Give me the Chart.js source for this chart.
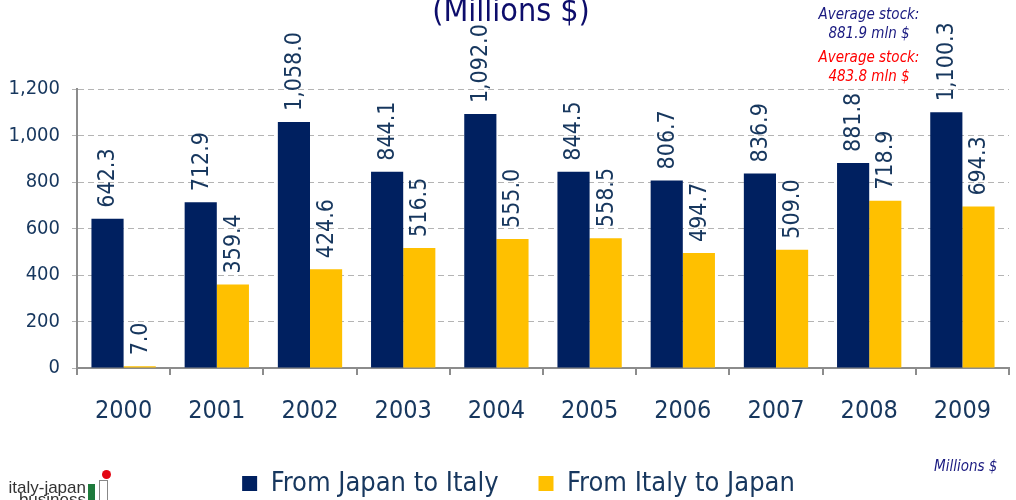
<!DOCTYPE html>
<html>
<head>
<meta charset="utf-8">
<script src="https://cdn.jsdelivr.net/npm/chart.js@4.4.1/dist/chart.umd.min.js"></script>
<style>
  body { margin: 0; background: #fff; overflow: hidden; }
  #wrap { position: relative; width: 1016px; height: 500px; font-family: "DejaVu Sans Condensed", "DejaVu Sans", sans-serif; }
  #title { position: absolute; left: 0; width: 1022px; top: -9px; text-align: center; font-size: 32px; color: #0d0d6b; }
  .avg { position: absolute; left: 790px; width: 158px; text-align: center; font-style: italic; font-size: 15px; line-height: 19px; }
  #unit { position: absolute; left: 934px; top: 457px; font-style: italic; font-size: 15px; color: #1a1a80; }
  #logo { position: absolute; left: 0; top: 470px; width: 120px; height: 30px; overflow: hidden; font-family: "Liberation Sans", sans-serif; }
  #logo .txt { position: absolute; left: 0; top: 12px; font-size: 17px; line-height: 12px; color: #333; text-align: right; width: 86px; }
  #logo .g { position: absolute; left: 88px; top: 14px; width: 7px; height: 16px; background: #1e7a3c; }
  #logo .w { position: absolute; left: 99px; top: 10px; width: 7px; height: 20px; border: 1px solid #888; background: #fff; }
  #logo .r { position: absolute; left: 102px; top: 0; width: 9px; height: 9px; border-radius: 50%; background: #e30613; }
</style>
</head>
<body>
<div id="wrap">
  <canvas id="chart" width="1016" height="500"></canvas>
  <div id="title">(Millions $)</div>
  <div class="avg" style="top:5px;color:#1a1a80">Average stock:<br>881.9 mln $</div>
  <div class="avg" style="top:48px;color:#ff0000">Average stock:<br>483.8 mln $</div>
  <div id="unit">Millions $</div>
  <div id="logo"><div class="txt">italy-japan<br>business</div><div class="g"></div><div class="w"></div><div class="r"></div></div>
</div>
<script>
  const years = ["2000", "2001", "2002", "2003", "2004", "2005", "2006", "2007", "2008", "2009"];
  const japanToItaly = [642.3, 712.9, 1058.0, 844.1, 1092.0, 844.5, 806.7, 836.9, 881.8, 1100.3];
  const italyToJapan = [7.0, 359.4, 424.6, 516.5, 555.0, 558.5, 494.7, 509.0, 718.9, 694.3];
  const yTicks = [0, 200, 400, 600, 800, 1000, 1200];

  const FONT = '"DejaVu Sans Condensed", "DejaVu Sans", sans-serif';
  const TEXT = "#17375e";
  const GRID = "#b4b4b4";
  const AXIS = "#8c8c8c";

  const fmt = (v) => v.toLocaleString("en-US", { minimumFractionDigits: 1, maximumFractionDigits: 1 });

  // vertical value labels above each bar
  const barLabels = {
    id: "barLabels",
    afterDatasetsDraw(chart) {
      const ctx = chart.ctx;
      ctx.save();
      ctx.font = `23px ${FONT}`;
      ctx.fillStyle = TEXT;
      ctx.textAlign = "left";
      ctx.textBaseline = "middle";
      chart.data.datasets.forEach((ds, di) => {
        chart.getDatasetMeta(di).data.forEach((bar, i) => {
          ctx.save();
          ctx.translate(bar.x + 1, bar.y - 11);
          ctx.rotate(-Math.PI / 2);
          ctx.fillText(fmt(ds.data[i]), 0, 0);
          ctx.restore();
        });
      });
      ctx.restore();
    },
  };

  // nudge the legend to where the original sits
  const legendShift = {
    id: "legendShift",
    afterLayout(chart) {
      const lg = chart.legend;
      if (!lg) return;
      lg.left += 14;
      lg.right += 14;
      lg.top -= 17;
      lg.bottom -= 17;
    },
  };

  new Chart(document.getElementById("chart"), {
    type: "bar",
    data: {
      labels: years,
      datasets: [
        { label: "From Japan to Italy", data: japanToItaly, backgroundColor: "#002060" },
        { label: "From Italy to Japan", data: italyToJapan, backgroundColor: "#ffc000" },
      ],
    },
    options: {
      responsive: false,
      animation: false,
      layout: { padding: { top: 89, left: 0, right: 7, bottom: -24 } },
      datasets: { bar: { categoryPercentage: 0.69, barPercentage: 1.0 } },
      plugins: {
        title: { display: false },
        tooltip: { enabled: false },
        legend: {
          position: "bottom",
          labels: {
            color: TEXT,
            boxWidth: 15,
            boxHeight: 15,
            padding: 40,
            font: { family: FONT, size: 27 },
          },
        },
      },
      scales: {
        x: {
          border: { color: AXIS, width: 2 },
          grid: { display: true, offset: true, drawOnChartArea: false, tickLength: 7, color: AXIS, lineWidth: 2 },
          ticks: { color: TEXT, padding: 21, font: { family: FONT, size: 25 } },
        },
        y: {
          min: 0,
          max: 1200,
          afterFit: (scale) => { scale.width = 77; },
          afterBuildTicks: (scale) => { scale.ticks = yTicks.map((v) => ({ value: v })); },
          border: { color: AXIS, width: 2, dash: [6, 4] },
          grid: { color: GRID, lineWidth: 1, tickLength: 5, tickColor: GRID },
          ticks: {
            color: TEXT,
            padding: 12,
            font: { family: FONT, size: 20 },
            callback: (v) => v.toLocaleString("en-US"),
          },
        },
      },
    },
    plugins: [barLabels, legendShift],
  });
</script>
</body>
</html>
